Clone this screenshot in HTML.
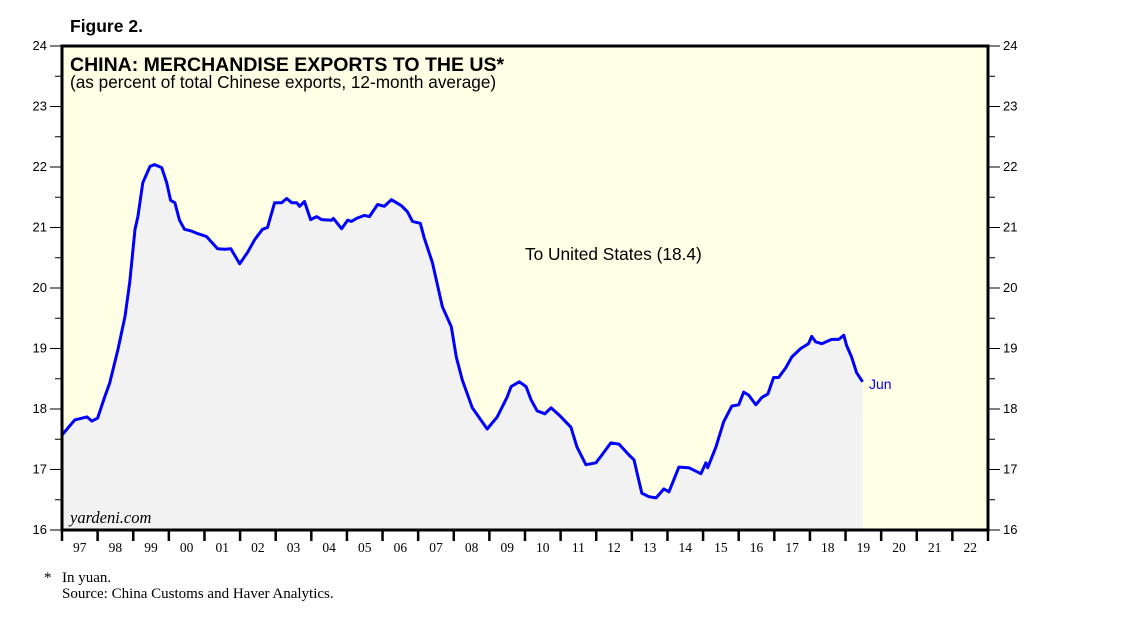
<!DOCTYPE html>
<html><head><meta charset="utf-8"><style>
body{margin:0;background:#fff;}
svg text{font-family:"Liberation Sans",Arial,sans-serif;}
</style></head><body>
<svg width="1138" height="621" xmlns="http://www.w3.org/2000/svg">
<text x="70" y="32" font-size="17.5" font-weight="bold">Figure 2.</text>
<rect x="62" y="46" width="926" height="484" fill="#ffffe5"/>
<g id="fillg"></g>
<g id="lineg"></g>
<rect x="62" y="46" width="926" height="484" fill="none" stroke="#000" stroke-width="3"/>
<text x="70" y="71" font-size="19.5" font-weight="bold">CHINA: MERCHANDISE EXPORTS TO THE US*</text>
<text x="70" y="88" font-size="17.2">(as percent of total Chinese exports, 12-month average)</text>
<text x="525" y="260" font-size="17.3">To United States (18.4)</text>
<text x="869" y="389" font-size="14" fill="#0000ff">Jun</text>
<text x="70" y="523" font-size="16.5" font-style="italic" style="font-family:'Liberation Serif',serif">yardeni.com</text>
<g id="axes"></g>
<text x="44" y="582" font-size="15" style="font-family:'Liberation Serif',serif">*</text>
<text x="62" y="582" font-size="15" style="font-family:'Liberation Serif',serif">In yuan.</text>
<text x="62" y="598" font-size="15" style="font-family:'Liberation Serif',serif">Source: China Customs and Haver Analytics.</text>
</svg>
<script>
const times=[1997.0,1997.36,1997.7,1997.84,1998.0,1998.2,1998.34,1998.57,1998.77,1998.9,1999.05,1999.13,1999.27,1999.47,1999.6,1999.8,1999.94,2000.05,2000.17,2000.3,2000.44,2000.64,2000.81,2001.06,2001.37,2001.57,2001.74,2001.99,2002.21,2002.41,2002.63,2002.77,2002.97,2003.17,2003.31,2003.45,2003.59,2003.67,2003.81,2003.98,2004.15,2004.29,2004.57,2004.62,2004.85,2005.02,2005.13,2005.27,2005.49,2005.63,2005.86,2006.05,2006.25,2006.53,2006.7,2006.84,2007.06,2007.17,2007.4,2007.68,2007.93,2008.07,2008.24,2008.52,2008.94,2009.22,2009.5,2009.61,2009.84,2010.03,2010.17,2010.34,2010.56,2010.73,2010.96,2011.29,2011.46,2011.71,2011.99,2012.16,2012.41,2012.64,2012.92,2013.06,2013.28,2013.48,2013.68,2013.9,2014.04,2014.32,2014.6,2014.94,2015.08,2015.13,2015.36,2015.58,2015.81,2016.0,2016.14,2016.28,2016.48,2016.65,2016.82,2016.98,2017.12,2017.32,2017.49,2017.74,2017.96,2018.05,2018.16,2018.33,2018.61,2018.81,2018.95,2019.03,2019.17,2019.31,2019.48];
const values=[17.57,17.82,17.87,17.8,17.85,18.2,18.43,18.98,19.53,20.09,20.97,21.18,21.74,22.01,22.04,21.99,21.74,21.45,21.41,21.12,20.97,20.94,20.9,20.85,20.65,20.64,20.65,20.4,20.59,20.8,20.97,21.0,21.41,21.41,21.48,21.41,21.41,21.35,21.43,21.13,21.18,21.13,21.12,21.15,20.98,21.12,21.1,21.15,21.2,21.18,21.38,21.35,21.46,21.36,21.26,21.1,21.07,20.83,20.42,19.69,19.36,18.86,18.48,18.02,17.67,17.87,18.2,18.37,18.45,18.37,18.15,17.97,17.92,18.02,17.9,17.7,17.37,17.08,17.11,17.24,17.44,17.42,17.24,17.16,16.61,16.55,16.53,16.68,16.63,17.04,17.03,16.93,17.11,17.03,17.37,17.79,18.05,18.07,18.28,18.23,18.07,18.19,18.25,18.52,18.52,18.68,18.86,19.0,19.08,19.2,19.11,19.08,19.15,19.15,19.22,19.05,18.86,18.6,18.45];
const yTicks=[16,17,18,19,20,21,22,23,24];
const xYears=["97","98","99","00","01","02","03","04","05","06","07","08","09","10","11","12","13","14","15","16","17","18","19","20","21","22"];
const NS="http://www.w3.org/2000/svg";
const X0=62,X1=988,Y0=530,Y1=46;
function xs(t){return X0+(t-1997)*(X1-X0)/26;}
function ys(v){return Y0-(v-16)*(Y0-Y1)/8;}
function mk(tag,attrs,parent){const e=document.createElementNS(NS,tag);for(const k in attrs)e.setAttribute(k,attrs[k]);parent.appendChild(e);return e;}
let pts=times.map((t,i)=>xs(t).toFixed(1)+","+ys(values[i]).toFixed(1));
const area=mk("polygon",{points:xs(times[0])+","+Y0+" "+pts.join(" ")+" "+xs(times[times.length-1])+","+Y0,fill:"#f2f2f2"},document.getElementById("fillg"));


const line=mk("polyline",{points:pts.join(" "),fill:"none",stroke:"#0000ff","stroke-width":3,"stroke-linejoin":"round"},document.getElementById("lineg"));


const ax=document.getElementById("axes");
yTicks.forEach(v=>{
  const y=ys(v);
  const t1=mk("line",{x1:50,x2:62,y1:y,y2:y,stroke:"#000","stroke-width":1},ax);
  
  
  const t2=mk("line",{x1:988,x2:1000,y1:y,y2:y,stroke:"#000","stroke-width":1},ax);
  
  
  const l1=mk("text",{x:47,y:y+4,"font-size":13,"text-anchor":"end"},ax);l1.textContent=v;
  
  
  const l2=mk("text",{x:1003,y:y+4,"font-size":13},ax);l2.textContent=v;
  
  
  if(v<24){const ym=ys(v+0.5);
    const m1=mk("line",{x1:55,x2:62,y1:ym,y2:ym,stroke:"#000","stroke-width":1},ax);
    
    
    const m2=mk("line",{x1:988,x2:995,y1:ym,y2:ym,stroke:"#000","stroke-width":1},ax);
    
    }
});
xYears.forEach((lab,i)=>{
  const x=xs(1997+i);
  const tk=mk("line",{x1:x,x2:x,y1:530,y2:541,stroke:"#000","stroke-width":2.5},ax);
  
  
  const tx=mk("text",{x:xs(1997.5+i),y:552,"font-size":13.5,"text-anchor":"middle",style:"font-family:'Liberation Serif',serif"},ax);tx.textContent=lab;
  
  
});
const tkEnd=mk("line",{x1:988,x2:988,y1:530,y2:541,stroke:"#000","stroke-width":2.5},ax);


</script>
</body></html>
